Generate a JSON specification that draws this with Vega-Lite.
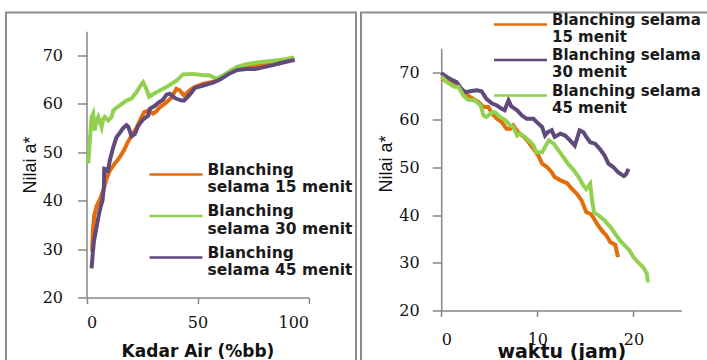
{
  "$schema": "https://vega.github.io/schema/vega-lite/v6.json",
  "padding": {"left": 5, "top": 8.5, "right": 0, "bottom": 0},
  "spacing": 3,
  "datasets": {
    "left": [
      {"s":"15","x":2.5,"y":29.5},{"s":"15","x":2.9,"y":34},{"s":"15","x":3.5,"y":37},{"s":"15","x":4.5,"y":38.8},{"s":"15","x":6,"y":40.2},{"s":"15","x":7.5,"y":42},{"s":"15","x":9,"y":44.5},{"s":"15","x":10.5,"y":46.2},{"s":"15","x":12.5,"y":47.5},{"s":"15","x":15,"y":49},{"s":"15","x":17,"y":50.5},{"s":"15","x":18.5,"y":52},{"s":"15","x":20,"y":53.2},{"s":"15","x":22.5,"y":55},{"s":"15","x":24.5,"y":57},{"s":"15","x":26,"y":58.3},{"s":"15","x":27.8,"y":58.6},{"s":"15","x":30,"y":58},{"s":"15","x":31.5,"y":58.5},{"s":"15","x":33,"y":59.3},{"s":"15","x":36,"y":60.3},{"s":"15","x":38.3,"y":61.3},{"s":"15","x":40.5,"y":63.1},{"s":"15","x":42,"y":62.8},{"s":"15","x":44,"y":61.7},{"s":"15","x":46.5,"y":62.8},{"s":"15","x":48.7,"y":63.5},{"s":"15","x":52.6,"y":64.2},{"s":"15","x":56,"y":64.5},{"s":"15","x":58.6,"y":64.8},{"s":"15","x":61.5,"y":65.6},{"s":"15","x":64.6,"y":66.5},{"s":"15","x":68,"y":67.3},{"s":"15","x":72,"y":67.8},{"s":"15","x":76,"y":68},{"s":"15","x":80,"y":68.1},{"s":"15","x":84,"y":68.2},{"s":"15","x":87,"y":68.4},{"s":"15","x":90,"y":68.8},{"s":"15","x":93.5,"y":69.2},
      {"s":"30","x":0.8,"y":47.7},{"s":"30","x":1.5,"y":52.4},{"s":"30","x":2.3,"y":57.3},{"s":"30","x":3,"y":58},{"s":"30","x":3.7,"y":54.5},{"s":"30","x":4.5,"y":56.5},{"s":"30","x":5.3,"y":57.3},{"s":"30","x":6.8,"y":55.2},{"s":"30","x":7.5,"y":56.8},{"s":"30","x":8.2,"y":57.3},{"s":"30","x":9.8,"y":56.6},{"s":"30","x":11.3,"y":57.3},{"s":"30","x":12,"y":58.6},{"s":"30","x":13.5,"y":59.2},{"s":"30","x":15,"y":59.7},{"s":"30","x":18,"y":60.7},{"s":"30","x":20.3,"y":61.1},{"s":"30","x":22.5,"y":62.4},{"s":"30","x":24.8,"y":64.1},{"s":"30","x":25.5,"y":64.5},{"s":"30","x":27,"y":63.1},{"s":"30","x":28.2,"y":61.5},{"s":"30","x":30,"y":62},{"s":"30","x":31.5,"y":62.4},{"s":"30","x":36,"y":63.5},{"s":"30","x":40.5,"y":64.8},{"s":"30","x":43.5,"y":66.1},{"s":"30","x":48,"y":66.2},{"s":"30","x":52.6,"y":65.9},{"s":"30","x":55.5,"y":65.9},{"s":"30","x":58.6,"y":65.2},{"s":"30","x":61.6,"y":65.9},{"s":"30","x":64.6,"y":66.8},{"s":"30","x":67.6,"y":67.6},{"s":"30","x":72,"y":68.2},{"s":"30","x":76,"y":68.5},{"s":"30","x":80,"y":68.7},{"s":"30","x":84,"y":68.9},{"s":"30","x":87,"y":69.1},{"s":"30","x":90,"y":69.3},{"s":"30","x":93.5,"y":69.6},
      {"s":"45","x":2.3,"y":26},{"s":"45","x":2.8,"y":29},{"s":"45","x":3.3,"y":31.5},{"s":"45","x":4.5,"y":34.5},{"s":"45","x":5.5,"y":37},{"s":"45","x":6.5,"y":39},{"s":"45","x":7.2,"y":40},{"s":"45","x":7.8,"y":42.8},{"s":"45","x":8,"y":46.6},{"s":"45","x":9,"y":46.5},{"s":"45","x":9.5,"y":45.8},{"s":"45","x":10.5,"y":48.3},{"s":"45","x":12,"y":51},{"s":"45","x":13.5,"y":53.1},{"s":"45","x":15,"y":54},{"s":"45","x":16.5,"y":55},{"s":"45","x":18,"y":55.6},{"s":"45","x":18.8,"y":55.3},{"s":"45","x":20.3,"y":53.3},{"s":"45","x":21.8,"y":53.8},{"s":"45","x":23.3,"y":55.5},{"s":"45","x":25.5,"y":56.8},{"s":"45","x":27.8,"y":57.6},{"s":"45","x":28.5,"y":59},{"s":"45","x":30.8,"y":59.6},{"s":"45","x":32.3,"y":60.2},{"s":"45","x":34.5,"y":60.9},{"s":"45","x":36,"y":61.9},{"s":"45","x":37.5,"y":62.1},{"s":"45","x":39.8,"y":61.2},{"s":"45","x":42.8,"y":60.7},{"s":"45","x":44,"y":60.7},{"s":"45","x":46.5,"y":61.9},{"s":"45","x":48.8,"y":63.3},{"s":"45","x":52.6,"y":63.8},{"s":"45","x":57,"y":64.4},{"s":"45","x":60,"y":65},{"s":"45","x":64.5,"y":66.3},{"s":"45","x":68,"y":67},{"s":"45","x":72,"y":67.2},{"s":"45","x":76,"y":67.2},{"s":"45","x":80,"y":67.6},{"s":"45","x":84,"y":68},{"s":"45","x":87,"y":68.4},{"s":"45","x":90,"y":68.7},{"s":"45","x":93.8,"y":69.1}
    ],
    "right": [
      {"s":"15","x":0,"y":68.6},{"s":"15","x":1.3,"y":67.6},{"s":"15","x":1.8,"y":67.2},{"s":"15","x":2.3,"y":65.8},{"s":"15","x":3,"y":64.8},{"s":"15","x":3.9,"y":63.7},{"s":"15","x":4.4,"y":62.7},{"s":"15","x":4.9,"y":62.7},{"s":"15","x":5.3,"y":61.3},{"s":"15","x":5.8,"y":60.2},{"s":"15","x":6.3,"y":59.5},{"s":"15","x":6.8,"y":58.1},{"s":"15","x":7.2,"y":58.1},{"s":"15","x":7.5,"y":58.8},{"s":"15","x":8,"y":57.4},{"s":"15","x":8.6,"y":56.4},{"s":"15","x":9.1,"y":55.3},{"s":"15","x":9.6,"y":53.9},{"s":"15","x":10.1,"y":52.5},{"s":"15","x":10.5,"y":50.8},{"s":"15","x":11,"y":50.1},{"s":"15","x":11.5,"y":49},{"s":"15","x":11.8,"y":48},{"s":"15","x":12.4,"y":47.3},{"s":"15","x":13.1,"y":46.7},{"s":"15","x":13.6,"y":45.5},{"s":"15","x":14.1,"y":44.5},{"s":"15","x":14.6,"y":43.1},{"s":"15","x":15.1,"y":40.6},{"s":"15","x":15.5,"y":40.3},{"s":"15","x":15.8,"y":39.6},{"s":"15","x":16.2,"y":38.2},{"s":"15","x":16.7,"y":36.8},{"s":"15","x":17.2,"y":35.7},{"s":"15","x":17.6,"y":34.3},{"s":"15","x":18.1,"y":33.8},{"s":"15","x":18.4,"y":31.2},
      {"s":"30","x":0,"y":69.8},{"s":"30","x":0.9,"y":68.6},{"s":"30","x":1.6,"y":67.9},{"s":"30","x":2.1,"y":66.5},{"s":"30","x":2.5,"y":65.8},{"s":"30","x":3,"y":66},{"s":"30","x":3.7,"y":66.2},{"s":"30","x":4.2,"y":66},{"s":"30","x":4.7,"y":64.4},{"s":"30","x":5.3,"y":63.4},{"s":"30","x":5.8,"y":63},{"s":"30","x":6.3,"y":62.3},{"s":"30","x":6.6,"y":62},{"s":"30","x":7,"y":64.1},{"s":"30","x":7.3,"y":62.8},{"s":"30","x":7.9,"y":62},{"s":"30","x":8.4,"y":60.9},{"s":"30","x":8.9,"y":60.2},{"s":"30","x":9.6,"y":60.2},{"s":"30","x":10.1,"y":59.2},{"s":"30","x":10.5,"y":58.5},{"s":"30","x":10.8,"y":56.7},{"s":"30","x":11.1,"y":57.4},{"s":"30","x":11.5,"y":57.8},{"s":"30","x":11.8,"y":56.4},{"s":"30","x":12.4,"y":57.1},{"s":"30","x":12.9,"y":56.7},{"s":"30","x":13.4,"y":55.7},{"s":"30","x":13.9,"y":54.6},{"s":"30","x":14.4,"y":57.8},{"s":"30","x":14.8,"y":57.4},{"s":"30","x":15.1,"y":56.4},{"s":"30","x":15.5,"y":55.3},{"s":"30","x":16,"y":55},{"s":"30","x":16.5,"y":53.9},{"s":"30","x":17,"y":52.5},{"s":"30","x":17.4,"y":50.8},{"s":"30","x":17.9,"y":50.1},{"s":"30","x":18.4,"y":49},{"s":"30","x":19,"y":48.2},{"s":"30","x":19.2,"y":48.5},{"s":"30","x":19.5,"y":49.7},
      {"s":"45","x":0,"y":69.1},{"s":"45","x":0.6,"y":67.9},{"s":"45","x":1.3,"y":67},{"s":"45","x":1.8,"y":66.9},{"s":"45","x":2.3,"y":65.1},{"s":"45","x":2.8,"y":64.2},{"s":"45","x":3.5,"y":64.1},{"s":"45","x":4.1,"y":63},{"s":"45","x":4.4,"y":60.9},{"s":"45","x":4.7,"y":60.6},{"s":"45","x":5.3,"y":61.6},{"s":"45","x":5.6,"y":61.6},{"s":"45","x":6.1,"y":60.6},{"s":"45","x":6.7,"y":59.9},{"s":"45","x":7.2,"y":58.8},{"s":"45","x":7.5,"y":58.5},{"s":"45","x":7.9,"y":56.7},{"s":"45","x":8.2,"y":57.1},{"s":"45","x":8.7,"y":56.4},{"s":"45","x":9.3,"y":55.3},{"s":"45","x":9.6,"y":54.6},{"s":"45","x":9.9,"y":53.2},{"s":"45","x":10.5,"y":53.2},{"s":"45","x":10.8,"y":54.3},{"s":"45","x":11.2,"y":55.7},{"s":"45","x":11.7,"y":55},{"s":"45","x":12.2,"y":53.6},{"s":"45","x":12.7,"y":52.2},{"s":"45","x":13.2,"y":50.8},{"s":"45","x":13.8,"y":49.4},{"s":"45","x":14.3,"y":48},{"s":"45","x":14.8,"y":46.2},{"s":"45","x":15.1,"y":45.5},{"s":"45","x":15.5,"y":46.6},{"s":"45","x":15.7,"y":43.1},{"s":"45","x":15.9,"y":40.6},{"s":"45","x":16.4,"y":39.9},{"s":"45","x":17,"y":38.9},{"s":"45","x":17.6,"y":37.5},{"s":"45","x":18.1,"y":36.1},{"s":"45","x":18.6,"y":34.7},{"s":"45","x":19.1,"y":33.6},{"s":"45","x":19.6,"y":32.6},{"s":"45","x":20,"y":31.2},{"s":"45","x":20.5,"y":30.1},{"s":"45","x":21,"y":29.1},{"s":"45","x":21.4,"y":27.7},{"s":"45","x":21.5,"y":25.9}
    ]
  },
  "config": {
    "view": {"stroke": "#8c8c8c", "strokeWidth": 2},
    "axis": {"grid": false, "domainColor": "#868686", "domainWidth": 1.5, "tickColor": "#868686", "tickWidth": 1.5, "labelFont": "DejaVu Serif", "labelFontSize": 16, "labelColor": "#111111", "titleColor": "#111111"},
    "legend": {"padding": 0, "title": null, "labelFont": "DejaVu Sans", "labelFontWeight": "bold", "labelFontSize": 15, "labelColor": "#1a1a1a", "labelLimit": 400, "symbolType": "M-2,0H2", "symbolSize": 702.25, "symbolStrokeWidth": 2.5, "labelOffset": 17, "labelBaseline": "alphabetic"}
  },
  "resolve": {"scale": {"color": "independent", "x": "independent", "y": "independent"}, "legend": {"color": "independent"}},
  "hconcat": [
    {
      "width": 350, "height": 360,
      "data": {"name": "left"},
      "mark": {"type": "line", "strokeWidth": 4},
      "encoding": {
        "x": {"field": "x", "type": "quantitative", "scale": {"domain": [0, 100], "range": [80.5, 302.5], "nice": false, "zero": false},
          "axis": {"values": [0, 50, 100], "offset": -75, "tickSize": 6, "labelPadding": 11, "title": "Kadar Air (%bb)", "titleFont": "DejaVu Sans", "titleFontSize": 17, "titleFontWeight": "bold", "titleBaseline": "alphabetic", "titleY": 59}},
        "y": {"field": "y", "type": "quantitative", "scale": {"domain": [20, 75], "range": [285, 18.8], "nice": false, "zero": false},
          "axis": {"values": [20, 30, 40, 50, 60, 70], "offset": -80.5, "tickSize": 9, "labelPadding": 15, "title": "Nilai a*", "titleFont": "Liberation Sans", "titleFontSize": 18, "titleFontWeight": "normal", "titlePadding": 3}},
        "color": {"field": "s", "type": "nominal", "scale": {"domain": ["15", "30", "45"], "range": ["#E46C0A", "#92D050", "#604A7B"]},
          "legend": {"orient": "none", "legendX": 155.5, "legendY": 147.5, "labelFontSize": 15.5, "labelExpr": "['Blanching', 'selama ' + datum.label + ' menit']", "rowPadding": 5.5}}
      }
    },
    {
      "width": 350, "height": 360,
      "data": {"name": "right"},
      "mark": {"type": "line", "strokeWidth": 4},
      "encoding": {
        "x": {"field": "x", "type": "quantitative", "scale": {"domain": [0, 25], "range": [80.2, 320.5], "nice": false, "zero": false},
          "axis": {"values": [0, 10, 20], "offset": -62, "tickSize": 6, "labelPadding": 15, "title": "waktu (jam)", "titleFont": "DejaVu Sans", "titleFontSize": 19, "titleFontWeight": "bold", "titleBaseline": "alphabetic", "titleY": 47}},
        "y": {"field": "y", "type": "quantitative", "scale": {"domain": [20, 75], "range": [298, 35.8], "nice": false, "zero": false},
          "axis": {"values": [20, 30, 40, 50, 60, 70], "offset": -80.2, "tickSize": 9, "labelPadding": 13, "title": "Nilai a*", "titleFont": "Liberation Sans", "titleFontSize": 18, "titleFontWeight": "normal", "titlePadding": 3, "titleY": 151}},
        "color": {"field": "s", "type": "nominal", "scale": {"domain": ["15", "30", "45"], "range": ["#E46C0A", "#604A7B", "#92D050"]},
          "legend": {"orient": "none", "legendX": 145, "legendY": -2.5, "labelExpr": "['Blanching selama', datum.label + ' menit']", "rowPadding": 0.5}}
      }
    }
  ]
}
